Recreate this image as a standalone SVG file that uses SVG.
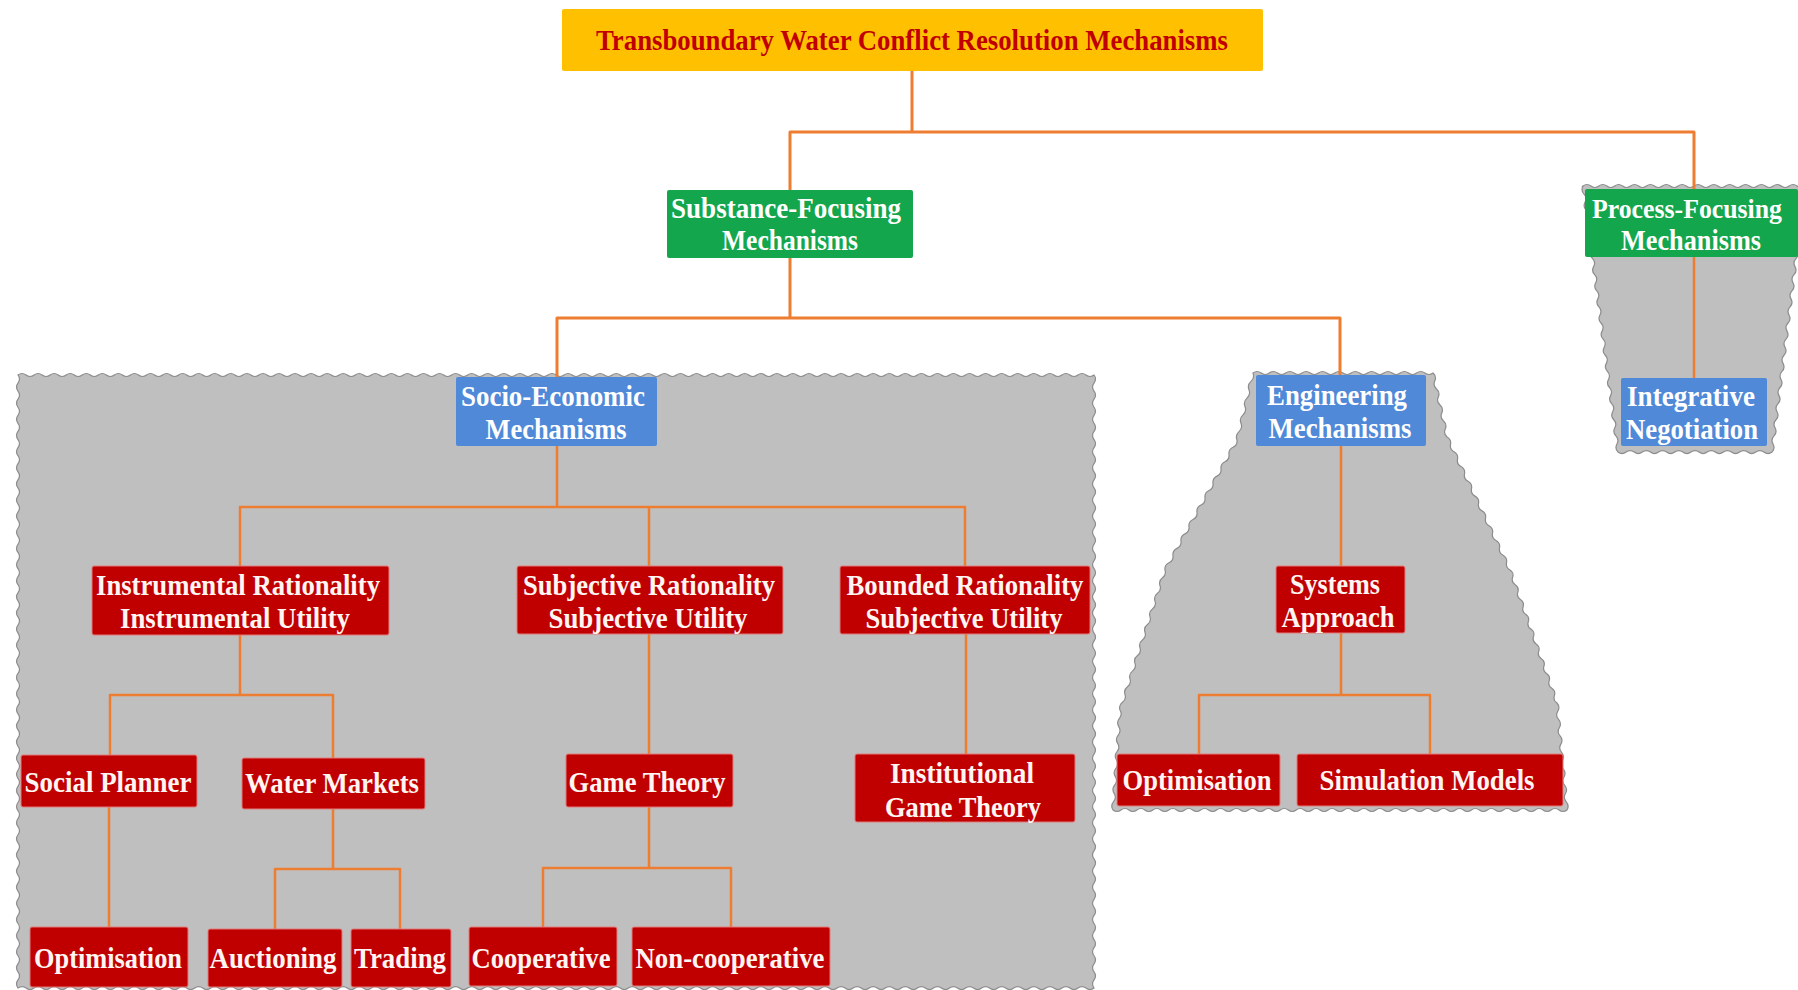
<svg xmlns="http://www.w3.org/2000/svg" width="1798" height="990" viewBox="0 0 1798 990">
<style>
.node text{font-family:"Liberation Serif","Times New Roman",serif;font-weight:bold;font-size:29px;text-anchor:middle}
.red rect{fill:#C00000;stroke:#E27A7A;stroke-width:1}
.red text{fill:#FFF5F2}
.blue rect{fill:#4F89D8}
.blue text{fill:#FFFFFF}
.green rect{fill:#14A64C}
.green text{fill:#FFFFFF}
.gold rect{fill:#FFC000}
.gold text{fill:#C00000}
.conn{fill:none;stroke:#ED7D31;stroke-width:2.5;stroke-linejoin:round}
.conn.main{stroke-width:3}
.region{fill:#BFBFBF;stroke:#8C8C8C;stroke-width:1.2}
</style>
<rect width="1798" height="990" fill="#FFFFFF"/>
<g id="regions">
<path id="region-socio" class="region" d="M18 375 q4.015 -3 8.03 0 t
8.03 0 8.03 0 8.03 0 8.03 0 8.03 0 8.03 0 8.03 0 8.03 0 8.03 0 8.03 0
8.03 0 8.03 0 8.03 0 8.03 0 8.03 0 8.03 0 8.03 0 8.03 0 8.03 0 8.03 0
8.03 0 8.03 0 8.03 0 8.03 0 8.03 0 8.03 0 8.03 0 8.03 0 8.03 0 8.03 0
8.03 0 8.03 0 8.03 0 8.03 0 8.03 0 8.03 0 8.03 0 8.03 0 8.03 0 8.03 0
8.03 0 8.03 0 8.03 0 8.03 0 8.03 0 8.03 0 8.03 0 8.03 0 8.03 0 8.03 0
8.03 0 8.03 0 8.03 0 8.03 0 8.03 0 8.03 0 8.03 0 8.03 0 8.03 0 8.03 0
8.03 0 8.03 0 8.03 0 8.03 0 8.03 0 8.03 0 8.03 0 8.03 0 8.03 0 8.03 0
8.03 0 8.03 0 8.03 0 8.03 0 8.03 0 8.03 0 8.03 0 8.03 0 8.03 0 8.03 0
8.03 0 8.03 0 8.03 0 8.03 0 8.03 0 8.03 0 8.03 0 8.03 0 8.03 0 8.03 0
8.03 0 8.03 0 8.03 0 8.03 0 8.03 0 8.03 0 8.03 0 8.03 0 8.03 0 8.03 0
8.03 0 8.03 0 8.03 0 8.03 0 8.03 0 8.03 0 8.03 0 8.03 0 8.03 0 8.03 0
8.03 0 8.03 0 8.03 0 8.03 0 8.03 0 8.03 0 8.03 0 8.03 0 8.03 0 8.03 0
8.03 0 8.03 0 8.03 0 8.03 0 8.03 0 8.03 0 8.03 0 8.03 0 8.03 0 8.03 0
8.03 0 8.03 0 8.03 0
q3 4.033 0 8.066 t
0 8.066 0 8.066 0 8.066 0 8.066 0 8.066 0 8.066 0 8.066 0 8.066 0 8.066 0 8.066
0 8.066 0 8.066 0 8.066 0 8.066 0 8.066 0 8.066 0 8.066 0 8.066 0 8.066 0 8.066
0 8.066 0 8.066 0 8.066 0 8.066 0 8.066 0 8.066 0 8.066 0 8.066 0 8.066 0 8.066
0 8.066 0 8.066 0 8.066 0 8.066 0 8.066 0 8.066 0 8.066 0 8.066 0 8.066 0 8.066
0 8.066 0 8.066 0 8.066 0 8.066 0 8.066 0 8.066 0 8.066 0 8.066 0 8.066 0 8.066
0 8.066 0 8.066 0 8.066 0 8.066 0 8.066 0 8.066 0 8.066 0 8.066 0 8.066 0 8.066
0 8.066 0 8.066 0 8.066 0 8.066 0 8.066 0 8.066 0 8.066 0 8.066 0 8.066 0 8.066
0 8.066 0 8.066 0 8.066 0 8.066 0 8.066
q-4.015 3 -8.03 0 t
-8.03 0 -8.03 0 -8.03 0 -8.03 0 -8.03 0 -8.03 0 -8.03 0 -8.03 0 -8.03 0 -8.03 0
-8.03 0 -8.03 0 -8.03 0 -8.03 0 -8.03 0 -8.03 0 -8.03 0 -8.03 0 -8.03 0 -8.03 0
-8.03 0 -8.03 0 -8.03 0 -8.03 0 -8.03 0 -8.03 0 -8.03 0 -8.03 0 -8.03 0 -8.03 0
-8.03 0 -8.03 0 -8.03 0 -8.03 0 -8.03 0 -8.03 0 -8.03 0 -8.03 0 -8.03 0 -8.03 0
-8.03 0 -8.03 0 -8.03 0 -8.03 0 -8.03 0 -8.03 0 -8.03 0 -8.03 0 -8.03 0 -8.03 0
-8.03 0 -8.03 0 -8.03 0 -8.03 0 -8.03 0 -8.03 0 -8.03 0 -8.03 0 -8.03 0 -8.03 0
-8.03 0 -8.03 0 -8.03 0 -8.03 0 -8.03 0 -8.03 0 -8.03 0 -8.03 0 -8.03 0 -8.03 0
-8.03 0 -8.03 0 -8.03 0 -8.03 0 -8.03 0 -8.03 0 -8.03 0 -8.03 0 -8.03 0 -8.03 0
-8.03 0 -8.03 0 -8.03 0 -8.03 0 -8.03 0 -8.03 0 -8.03 0 -8.03 0 -8.03 0 -8.03 0
-8.03 0 -8.03 0 -8.03 0 -8.03 0 -8.03 0 -8.03 0 -8.03 0 -8.03 0 -8.03 0 -8.03 0
-8.03 0 -8.03 0 -8.03 0 -8.03 0 -8.03 0 -8.03 0 -8.03 0 -8.03 0 -8.03 0 -8.03 0
-8.03 0 -8.03 0 -8.03 0 -8.03 0 -8.03 0 -8.03 0 -8.03 0 -8.03 0 -8.03 0 -8.03 0
-8.03 0 -8.03 0 -8.03 0 -8.03 0 -8.03 0 -8.03 0 -8.03 0 -8.03 0 -8.03 0 -8.03 0
-8.03 0 -8.03 0 -8.03 0
q-3 -4.033 0 -8.066 t
0 -8.066 0 -8.066 0 -8.066 0 -8.066 0 -8.066 0 -8.066 0 -8.066 0 -8.066 0 -8.066 0 -8.066
0 -8.066 0 -8.066 0 -8.066 0 -8.066 0 -8.066 0 -8.066 0 -8.066 0 -8.066 0 -8.066 0 -8.066
0 -8.066 0 -8.066 0 -8.066 0 -8.066 0 -8.066 0 -8.066 0 -8.066 0 -8.066 0 -8.066 0 -8.066
0 -8.066 0 -8.066 0 -8.066 0 -8.066 0 -8.066 0 -8.066 0 -8.066 0 -8.066 0 -8.066 0 -8.066
0 -8.066 0 -8.066 0 -8.066 0 -8.066 0 -8.066 0 -8.066 0 -8.066 0 -8.066 0 -8.066 0 -8.066
0 -8.066 0 -8.066 0 -8.066 0 -8.066 0 -8.066 0 -8.066 0 -8.066 0 -8.066 0 -8.066 0 -8.066
0 -8.066 0 -8.066 0 -8.066 0 -8.066 0 -8.066 0 -8.066 0 -8.066 0 -8.066 0 -8.066 0 -8.066
0 -8.066 0 -8.066 0 -8.066 0 -8.066 0 -8.066 Z"/>
<path id="region-engineering" class="region" d="M1253 373 q4.091 -3 8.182 0 t
8.182 0 8.182 0 8.182 0 8.182 0 8.182 0 8.182 0 8.182 0 8.182 0 8.182 0 8.182 0
8.182 0 8.182 0 8.182 0 8.182 0 8.182 0 8.182 0 8.182 0 8.182 0 8.182 0 8.182 0
8.182 0
q3.806 3.359 1.75 8 t
1.75 8 1.75 8 1.75 8 1.75 8 1.75 8 1.75 8 1.75 8
q4.461 2.41 3.5 7.389 t
3.5 7.389 3.5 7.389 3.5 7.389 3.5 7.389 3.5 7.389 3.5 7.389 3.5 7.389 3.5 7.389 3.5 7.389 3.5 7.389
3.5 7.389 3.5 7.389 3.5 7.389 3.5 7.389 3.5 7.389 3.5 7.389 3.5 7.389
q4.134 2.695 2.611 7.389 t
2.611 7.389 2.611 7.389 2.611 7.389 2.611 7.389 2.611 7.389 2.611 7.389 2.611 7.389 2.611 7.389 2.611 7.389 2.611 7.389
2.611 7.389 2.611 7.389 2.611 7.389 2.611 7.389 2.611 7.389 2.611 7.389 2.611 7.389
q3.371 3.836 0.769 8.231 t
0.769 8.231 0.769 8.231 0.769 8.231 0.769 8.231 0.769 8.231 0.769 8.231 0.769 8.231 0.769 8.231 0.769 8.231 0.769 8.231
0.769 8.231 0.769 8.231
q-3.982 3 -7.965 0 t
-7.965 0 -7.965 0 -7.965 0 -7.965 0 -7.965 0 -7.965 0 -7.965 0 -7.965 0 -7.965 0 -7.965 0
-7.965 0 -7.965 0 -7.965 0 -7.965 0 -7.965 0 -7.965 0 -7.965 0 -7.965 0 -7.965 0 -7.965 0
-7.965 0 -7.965 0 -7.965 0 -7.965 0 -7.965 0 -7.965 0 -7.965 0 -7.965 0 -7.965 0 -7.965 0
-7.965 0 -7.965 0 -7.965 0 -7.965 0 -7.965 0 -7.965 0 -7.965 0 -7.965 0 -7.965 0 -7.965 0
-7.965 0 -7.965 0 -7.965 0 -7.965 0 -7.965 0 -7.965 0 -7.965 0 -7.965 0 -7.965 0 -7.965 0
-7.965 0 -7.965 0 -7.965 0 -7.965 0 -7.965 0 -7.965 0
q-2.702 -4.377 0.583 -8.333 t
0.583 -8.333 0.583 -8.333 0.583 -8.333 0.583 -8.333 0.583 -8.333 0.583 -8.333 0.583 -8.333 0.583 -8.333 0.583 -8.333 0.583 -8.333
0.583 -8.333
q-1.605 -4.807 2.5 -7.778 t
2.5 -7.778 2.5 -7.778 2.5 -7.778 2.5 -7.778 2.5 -7.778 2.5 -7.778 2.5 -7.778 2.5 -7.778 2.5 -7.778 2.5 -7.778
2.5 -7.778 2.5 -7.778 2.5 -7.778 2.5 -7.778 2.5 -7.778 2.5 -7.778 2.5 -7.778
q-0.624 -5.065 4 -7.222 t
4 -7.222 4 -7.222 4 -7.222 4 -7.222 4 -7.222 4 -7.222 4 -7.222 4 -7.222 4 -7.222 4 -7.222
4 -7.222 4 -7.222 4 -7.222 4 -7.222 4 -7.222 4 -7.222 4 -7.222
q-1.917 -4.885 2 -8.375 t
2 -8.375 2 -8.375 2 -8.375 2 -8.375 2 -8.375 2 -8.375 2 -8.375 Z"/>
<path id="region-process" class="region" d="M1583 186 q3.964 -3 7.929 0 t
7.929 0 7.929 0 7.929 0 7.929 0 7.929 0 7.929 0 7.929 0 7.929 0 7.929 0 7.929 0
7.929 0 7.929 0 7.929 0 7.929 0 7.929 0 7.929 0 7.929 0 7.929 0 7.929 0 7.929 0
7.929 0 7.929 0 7.929 0 7.929 0 7.929 0 7.929 0 7.929 0
q2.478 4.399 -1 8.061 t
-1 8.061 -1 8.061 -1 8.061 -1 8.061 -1 8.061 -1 8.061 -1 8.061 -1 8.061 -1 8.061 -1 8.061
-1 8.061 -1 8.061 -1 8.061 -1 8.061 -1 8.061 -1 8.061 -1 8.061 -1 8.061 -1 8.061 -1 8.061
-1 8.061 -1 8.061 -1 8.061 -1 8.061 -1 8.061 -1 8.061 -1 8.061 -1 8.061 -1 8.061 -1 8.061
-1 8.061 -1 8.061
q-4.053 3 -8.105 0 t
-8.105 0 -8.105 0 -8.105 0 -8.105 0 -8.105 0 -8.105 0 -8.105 0 -8.105 0 -8.105 0 -8.105 0
-8.105 0 -8.105 0 -8.105 0 -8.105 0 -8.105 0 -8.105 0 -8.105 0 -8.105 0
q-3.504 -3.639 -1.061 -8.061 t
-1.061 -8.061 -1.061 -8.061 -1.061 -8.061 -1.061 -8.061 -1.061 -8.061 -1.061 -8.061 -1.061 -8.061 -1.061 -8.061 -1.061 -8.061 -1.061 -8.061
-1.061 -8.061 -1.061 -8.061 -1.061 -8.061 -1.061 -8.061 -1.061 -8.061 -1.061 -8.061 -1.061 -8.061 -1.061 -8.061 -1.061 -8.061 -1.061 -8.061
-1.061 -8.061 -1.061 -8.061 -1.061 -8.061 -1.061 -8.061 -1.061 -8.061 -1.061 -8.061 -1.061 -8.061 -1.061 -8.061 -1.061 -8.061 -1.061 -8.061
-1.061 -8.061 -1.061 -8.061 Z"/>
</g>
<g id="connectors">
<path class="conn main" d="M912 71 V132"/>
<path class="conn main" d="M790 190 V132 H1694 V189"/>
<path class="conn main" d="M790 258 V318"/>
<path class="conn main" d="M557 377 V318 H1340 V375"/>
<path class="conn" d="M1694 257 V378"/>
<path class="conn" d="M557 446 V507"/>
<path class="conn" d="M240 566 V507 H965 V566"/>
<path class="conn" d="M649 507 V566"/>
<path class="conn" d="M240 635 V695"/>
<path class="conn" d="M110 755 V695 H333 V758"/>
<path class="conn" d="M109 807 V927"/>
<path class="conn" d="M333 809 V869"/>
<path class="conn" d="M275 929 V869 H400 V929"/>
<path class="conn" d="M649 634 V754"/>
<path class="conn" d="M649 807 V868"/>
<path class="conn" d="M543 927 V868 H731 V927"/>
<path class="conn" d="M966 634 V754"/>
<path class="conn" d="M1341 446 V566"/>
<path class="conn" d="M1341 633 V695"/>
<path class="conn" d="M1199 754 V695 H1430 V754"/>
</g>
<g id="n-title" class="node gold"><rect x="562" y="9" width="701" height="62" rx="2"/><text x="912" y="50" textLength="632" lengthAdjust="spacingAndGlyphs">Transboundary Water Conflict Resolution Mechanisms</text></g>
<g id="n-substance" class="node green"><rect x="667" y="190" width="246" height="68" rx="2"/><text x="786" y="218" textLength="230" lengthAdjust="spacingAndGlyphs">Substance-Focusing</text><text x="790" y="250" textLength="136" lengthAdjust="spacingAndGlyphs">Mechanisms</text></g>
<g id="n-process" class="node green"><rect x="1585" y="189" width="213" height="68" rx="2"/><text x="1687" y="218" style="font-size:27px" textLength="190" lengthAdjust="spacingAndGlyphs">Process-Focusing</text><text x="1691" y="250" textLength="140" lengthAdjust="spacingAndGlyphs">Mechanisms</text></g>
<g id="n-socio" class="node blue"><rect x="456" y="377" width="201" height="69" rx="2"/><text x="553" y="406" textLength="184" lengthAdjust="spacingAndGlyphs">Socio-Economic</text><text x="556" y="439" textLength="141" lengthAdjust="spacingAndGlyphs">Mechanisms</text></g>
<g id="n-engineering" class="node blue"><rect x="1256" y="375" width="170" height="71" rx="2"/><text x="1337" y="405" textLength="140" lengthAdjust="spacingAndGlyphs">Engineering</text><text x="1340" y="438" textLength="143" lengthAdjust="spacingAndGlyphs">Mechanisms</text></g>
<g id="n-integrative" class="node blue"><rect x="1621" y="378" width="146" height="68" rx="2"/><text x="1691" y="406" textLength="128" lengthAdjust="spacingAndGlyphs">Integrative</text><text x="1692" y="439" textLength="132" lengthAdjust="spacingAndGlyphs">Negotiation</text></g>
<g id="n-instrumental" class="node red"><rect x="92" y="566" width="297" height="69" rx="2"/><text x="238" y="595" textLength="284" lengthAdjust="spacingAndGlyphs">Instrumental Rationality</text><text x="235" y="628" textLength="230" lengthAdjust="spacingAndGlyphs">Instrumental Utility</text></g>
<g id="n-subjective" class="node red"><rect x="517" y="566" width="266" height="68" rx="2"/><text x="649" y="595" textLength="252" lengthAdjust="spacingAndGlyphs">Subjective Rationality</text><text x="648" y="628" textLength="199" lengthAdjust="spacingAndGlyphs">Subjective Utility</text></g>
<g id="n-bounded" class="node red"><rect x="840" y="566" width="250" height="68" rx="2"/><text x="965" y="595" textLength="237" lengthAdjust="spacingAndGlyphs">Bounded Rationality</text><text x="964" y="628" textLength="197" lengthAdjust="spacingAndGlyphs">Subjective Utility</text></g>
<g id="n-social-planner" class="node red"><rect x="21" y="755" width="176" height="52" rx="2"/><text x="108" y="792" textLength="167" lengthAdjust="spacingAndGlyphs">Social Planner</text></g>
<g id="n-water-markets" class="node red"><rect x="242" y="758" width="183" height="51" rx="2"/><text x="332" y="793" textLength="174" lengthAdjust="spacingAndGlyphs">Water Markets</text></g>
<g id="n-optimisation-1" class="node red"><rect x="30" y="927" width="158" height="60" rx="2"/><text x="108" y="968" textLength="148" lengthAdjust="spacingAndGlyphs">Optimisation</text></g>
<g id="n-auctioning" class="node red"><rect x="208" y="929" width="134" height="58" rx="2"/><text x="273" y="968" textLength="127" lengthAdjust="spacingAndGlyphs">Auctioning</text></g>
<g id="n-trading" class="node red"><rect x="351" y="929" width="100" height="58" rx="2"/><text x="400" y="968" textLength="92" lengthAdjust="spacingAndGlyphs">Trading</text></g>
<g id="n-cooperative" class="node red"><rect x="469" y="927" width="148" height="59" rx="2"/><text x="541" y="968" textLength="139" lengthAdjust="spacingAndGlyphs">Cooperative</text></g>
<g id="n-non-cooperative" class="node red"><rect x="632" y="927" width="198" height="59" rx="2"/><text x="730" y="968" textLength="189" lengthAdjust="spacingAndGlyphs">Non-cooperative</text></g>
<g id="n-game-theory" class="node red"><rect x="566" y="754" width="167" height="53" rx="2"/><text x="647" y="792" textLength="157" lengthAdjust="spacingAndGlyphs">Game Theory</text></g>
<g id="n-institutional" class="node red"><rect x="855" y="754" width="220" height="68" rx="2"/><text x="962" y="783" textLength="144" lengthAdjust="spacingAndGlyphs">Institutional</text><text x="963" y="817" textLength="156" lengthAdjust="spacingAndGlyphs">Game Theory</text></g>
<g id="n-systems" class="node red"><rect x="1276" y="566" width="129" height="67" rx="2"/><text x="1335" y="594" textLength="90" lengthAdjust="spacingAndGlyphs">Systems</text><text x="1338" y="627" textLength="113" lengthAdjust="spacingAndGlyphs">Approach</text></g>
<g id="n-optimisation-2" class="node red"><rect x="1117" y="754" width="163" height="52" rx="2"/><text x="1197" y="790" textLength="149" lengthAdjust="spacingAndGlyphs">Optimisation</text></g>
<g id="n-simulation" class="node red"><rect x="1297" y="754" width="266" height="52" rx="2"/><text x="1427" y="790" textLength="215" lengthAdjust="spacingAndGlyphs">Simulation Models</text></g>
</svg>
